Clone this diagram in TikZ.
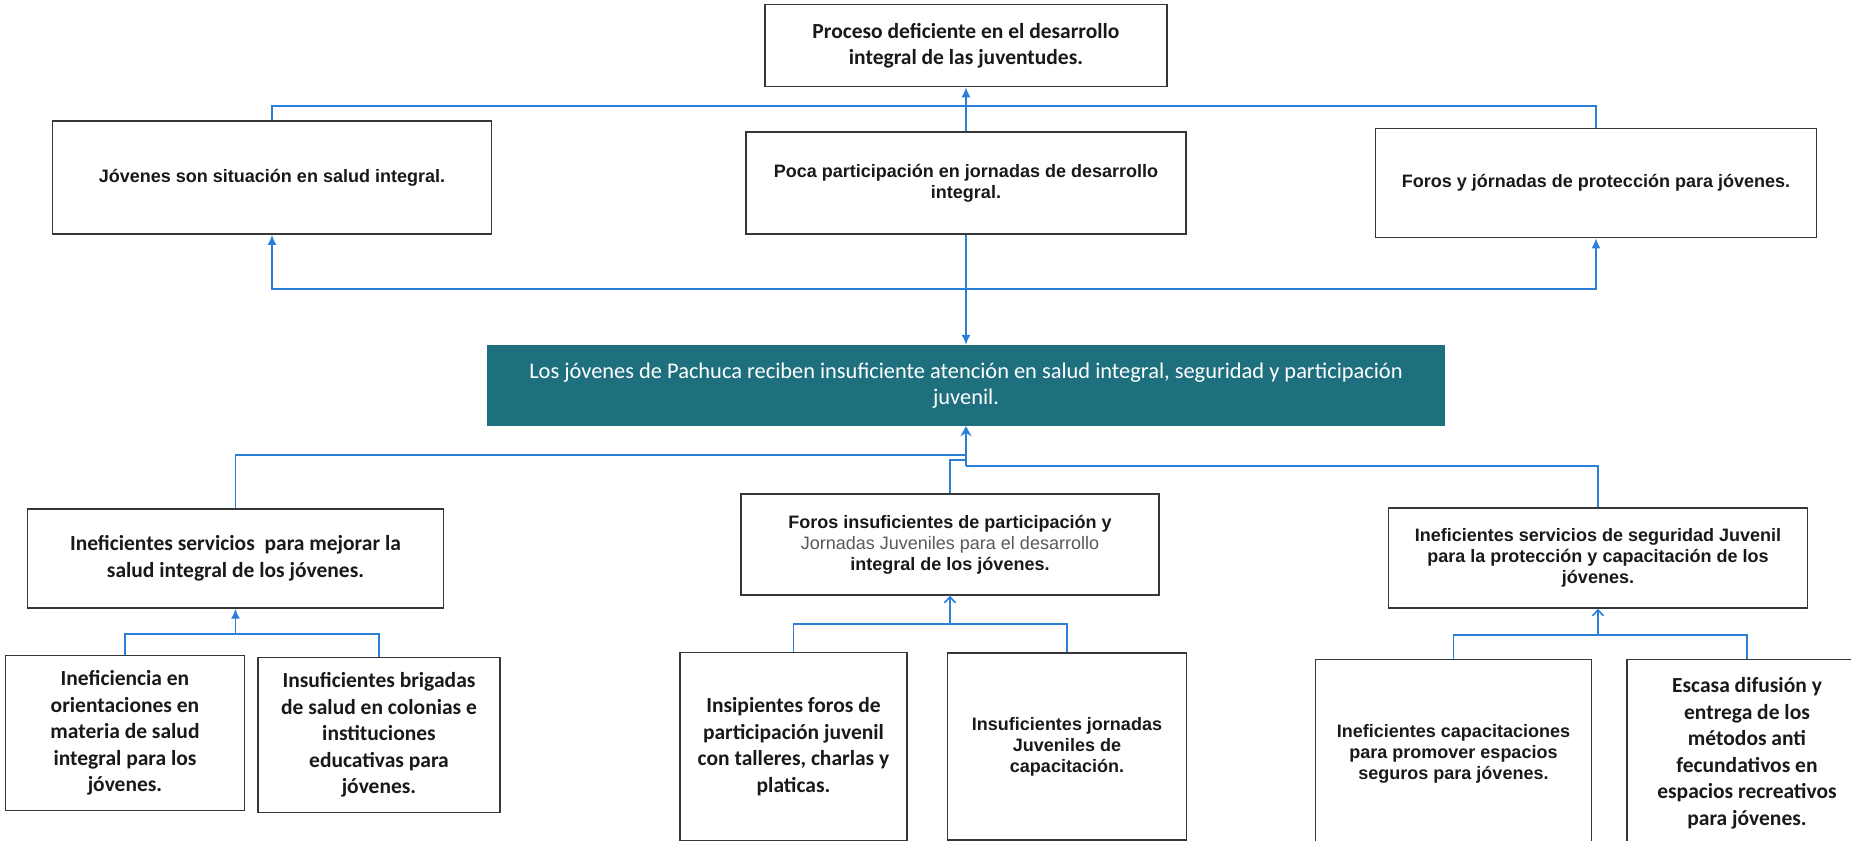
\documentclass[tikz,border=0pt]{standalone}
\usepackage{fontspec}
\setmainfont{Carlito}
\newfontfamily\arialfont{Liberation Sans}
\usetikzlibrary{positioning,arrows.meta}
\definecolor{tealbox}{RGB}{30,112,126}
\definecolor{linkblue}{RGB}{43,127,216}
\definecolor{boxgray}{RGB}{55,55,55}
\definecolor{textgray}{RGB}{25,25,25}

\begin{document}
\begin{tikzpicture}[x=1pt,y=1pt,
		box/.style={draw=boxgray, line width=1.5pt, fill=white, align=center, inner sep=0pt, text=textgray},
		cali/.style={box, font=\bfseries\fontsize{21.5}{26.5}\selectfont},
		arial/.style={box, font=\arialfont\bfseries\fontsize{18}{21}\selectfont},
		link/.style={draw=linkblue, line width=1.6pt}]

				\useasboundingbox (-966,-454.5) rectangle (885,385.5);

				\node[fill=tealbox, text=white, minimum width=958pt, minimum height=81pt, align=center, inner sep=0pt, font=\fontsize{22.4}{26}\selectfont] (problema) at (0,0) {Los jóvenes de Pachuca reciben insuficiente atención en salud integral, seguridad y participación\\juvenil.};

				\node[arial, minimum width=440pt, minimum height=102pt] (poca) [above = 110pt of problema] {Poca participación en jornadas de desarrollo\\integral.};
				\node[cali, minimum width=402pt, minimum height=82pt] (proceso) [above = 44pt of poca] {Proceso deficiente en el desarrollo\\integral de las juventudes.};
				\node[arial, minimum width=439pt, minimum height=113pt] (jovenes) [left = 253pt of poca, yshift=5.5pt] {Jóvenes son situación en salud integral.};
				\node[arial, minimum width=441pt, minimum height=109pt] (foros) [right = 188pt of poca] {Foros y jórnadas de protección para jóvenes.};

				\node[arial, minimum width=418pt, minimum height=101pt] (forosins) [below = 67pt of problema, xshift=-16pt] {Foros insuficientes de participación y\\{\mdseries\color{black!65}Jornadas Juveniles para el desarrollo}\\integral de los jóvenes.};
				\node[cali, minimum width=416pt, minimum height=99pt] (servicios) [left = 296pt of forosins, yshift=-14pt] {Ineficientes servicios\ \ para mejorar la\\salud integral de los jóvenes.};
				\node[arial, minimum width=419pt, minimum height=100pt] (seguridad) [right = 228pt of forosins, yshift=-13.5pt] {Ineficientes servicios de seguridad Juvenil\\para la protección y capacitación de los\\jóvenes.};

				\node[cali, minimum width=239pt, minimum height=155pt] (orienta) [below = 46pt of servicios, xshift=-110.5pt] {Ineficiencia en\\orientaciones en\\materia de salud\\integral para los\\jóvenes.};
				\node[cali, minimum width=242pt, minimum height=155pt] (brigadas) [right = 12pt of orienta, yshift=-2pt] {Insuficientes brigadas\\de salud en colonias e\\instituciones\\educativas para\\jóvenes.};
				\node[cali, minimum width=227pt, minimum height=188pt] (talleres) [below = 56pt of forosins, xshift=-156.5pt] {Insipientes foros de\\participación juvenil\\con talleres, charlas y\\platicas.};
				\node[arial, minimum width=239pt, minimum height=187pt] (jornadas) [right = 39pt of talleres] {Insuficientes jornadas\\Juveniles de\\capacitación.};
				\node[arial, minimum width=276pt, minimum height=188pt] (capacita) [below = 50pt of seguridad, xshift=-144.5pt] {Ineficientes capacitaciones\\para promover espacios\\seguros para jóvenes.};
				\node[cali, minimum width=240pt, minimum height=188pt] (difusion) [right = 34pt of capacita] {Escasa difusión y\\entrega de los\\métodos anti\\fecundativos en\\espacios recreativos\\para jóvenes.};

				\coordinate (topbar) at ([yshift=-19pt]proceso.south);
				\coordinate (midbar) at ([yshift=-54pt]poca.south);
				\draw[link] (jovenes.north) |- (topbar) -| (foros.north);
				\draw[link,-{Latex[length=10pt,width=9pt]}] (poca) -- (proceso);
				\draw[link,-{Latex[length=10pt,width=9pt]}] (poca) -- (problema);
				\draw[link,{Latex[length=10pt,width=9pt]}-{Latex[length=10pt,width=9pt]}] (jovenes.south) |- (midbar) -| (foros.south);

				\coordinate (lowleft) at ([yshift=-29pt]problema.south);
				\coordinate (lowmid) at ([yshift=-34pt]problema.south);
				\coordinate (lowright) at ([yshift=-40pt]problema.south);
				\draw[link] (servicios.north) |- (lowleft);
				\draw[link] (forosins.north) |- (lowmid);
				\draw[link] (seguridad.north) |- (lowright);
				\draw[link,-{Stealth[length=10pt,width=11pt]}] (lowright) -- (problema.south);

				\coordinate (barsalud) at ([yshift=-25pt]servicios.south);
				\coordinate (barforos) at ([yshift=-28pt]forosins.south);
				\coordinate (barsegur) at ([yshift=-26pt]seguridad.south);
				\draw[link] (orienta.north) |- (barsalud) -| (brigadas.north);
				\draw[link,-{Latex[length=10pt,width=9pt]}] (barsalud) -- (servicios.south);
				\draw[link] (talleres.north) |- (barforos) -| (jornadas.north);
				\draw[link,-{Straight Barb[length=6pt,width=11pt]}] (barforos) -- (forosins.south);
				\draw[link] (capacita.north) |- (barsegur) -| (difusion.north);
				\draw[link,-{Straight Barb[length=6pt,width=11pt]}] (barsegur) -- (seguridad.south);

			\end{tikzpicture}
\end{document}
